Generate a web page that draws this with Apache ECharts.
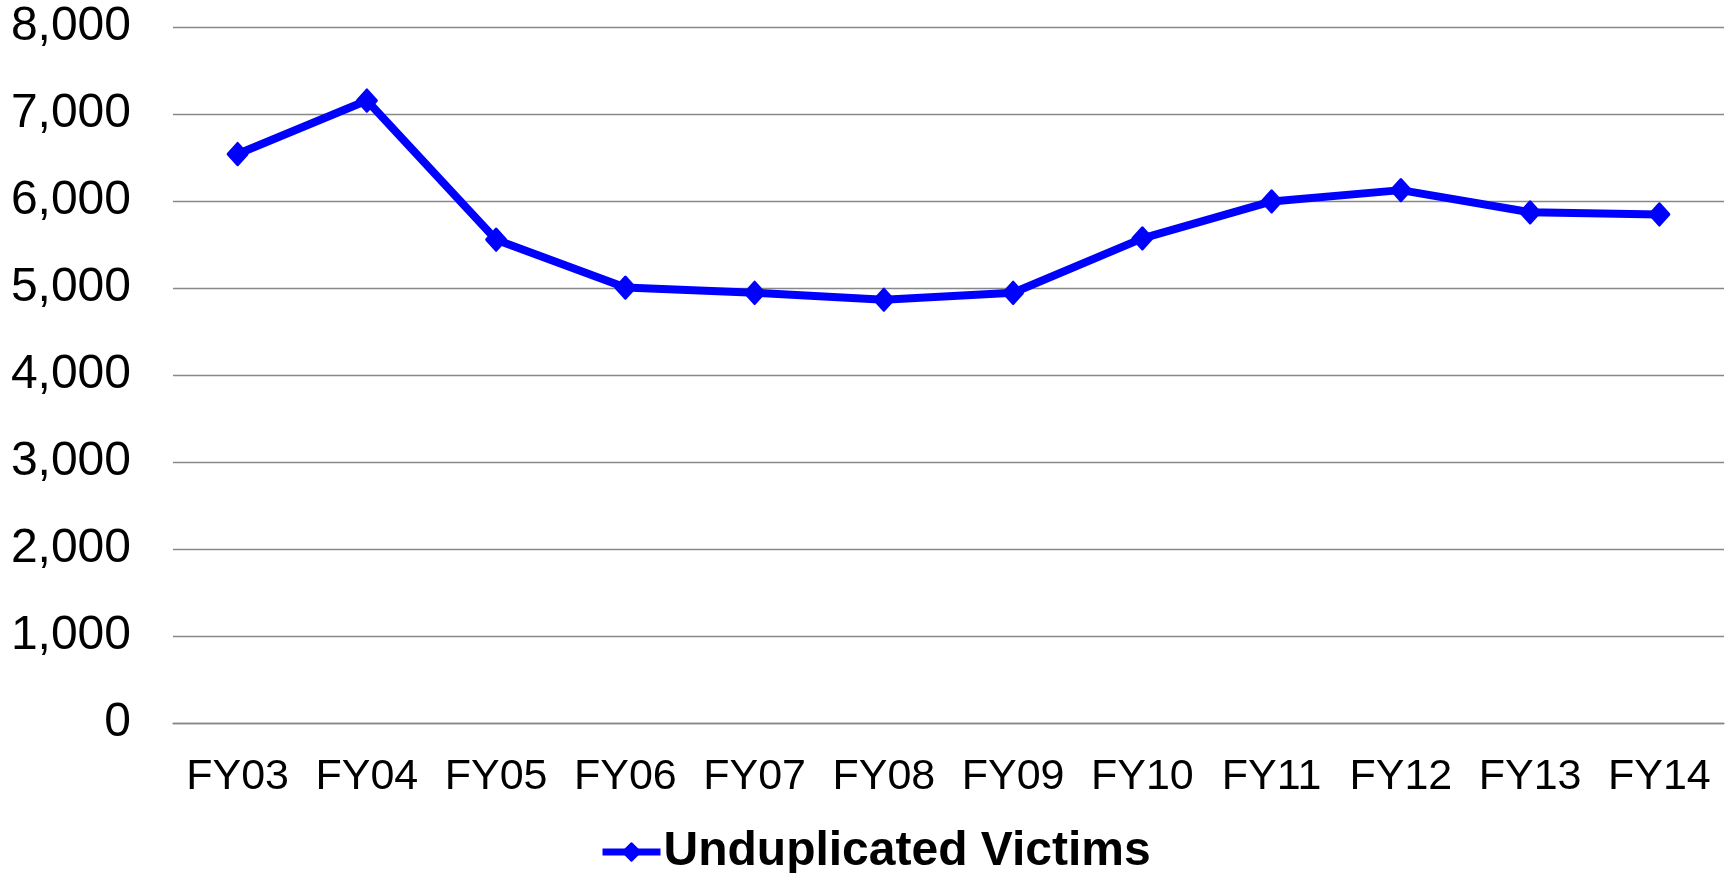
<!DOCTYPE html>
<html>
<head>
<meta charset="utf-8">
<script src="https://cdn.jsdelivr.net/npm/echarts@6/dist/echarts.min.js"></script>
<style>
  html, body { margin: 0; padding: 0; background: #fff; }
  #chart { width: 1729px; height: 873px; }
</style>
</head>
<body>
<div id="chart"></div>
<script>
// fiscal years on the x axis
const years = ['FY03', 'FY04', 'FY05', 'FY06', 'FY07', 'FY08', 'FY09', 'FY10', 'FY11', 'FY12', 'FY13', 'FY14'];
// values
const victims = [6540, 7155, 5555, 5005, 4945, 4865, 4945, 5570, 5995, 6125, 5870, 5845];
const seriesName = 'Unduplicated Victims';

const font = "'Liberation Sans', Arial, sans-serif";
const chart = echarts.init(document.getElementById('chart'));

const option = {
  animation: false,
  grid: { left: 173, right: 5, top: 27, bottom: 150, containLabel: false },
  legend: {
    data: [seriesName],
    left: 594,
    top: 823,
    itemWidth: 58,
    itemHeight: 22,
    itemGap: 4,
    lineStyle: { width: 7 },
    textStyle: { fontFamily: font, fontSize: 48, fontWeight: 'bold', color: '#000', padding: [0, 0, 0, -2] }
  },
  xAxis: {
    type: 'category',
    data: years,
    boundaryGap: true,
    axisLine: { lineStyle: { color: '#888', width: 1.3 } },
    axisTick: { show: false },
    axisLabel: { color: '#000', fontFamily: font, fontSize: 43, margin: 33, interval: 0, hideOverlap: false }
  },
  yAxis: {
    type: 'value',
    min: 0,
    max: 8000,
    interval: 1000,
    axisLine: { show: false },
    axisTick: { show: false },
    splitLine: { lineStyle: { color: '#888', width: 1.3 } },
    axisLabel: {
      color: '#000', fontFamily: font, fontSize: 48, margin: 42,
      formatter: (v) => v.toLocaleString('en-US')
    }
  },
  series: [
    {
      name: seriesName,
      type: 'line',
      data: victims,
      symbol: 'diamond',
      symbolSize: [19, 21],
      lineStyle: { color: '#0000ff', width: 8 },
      itemStyle: { color: '#0000ff', borderColor: '#0000ff', borderWidth: 3, borderJoin: 'round' }
    }
  ]
};

chart.setOption(option);
</script>
</body>
</html>
